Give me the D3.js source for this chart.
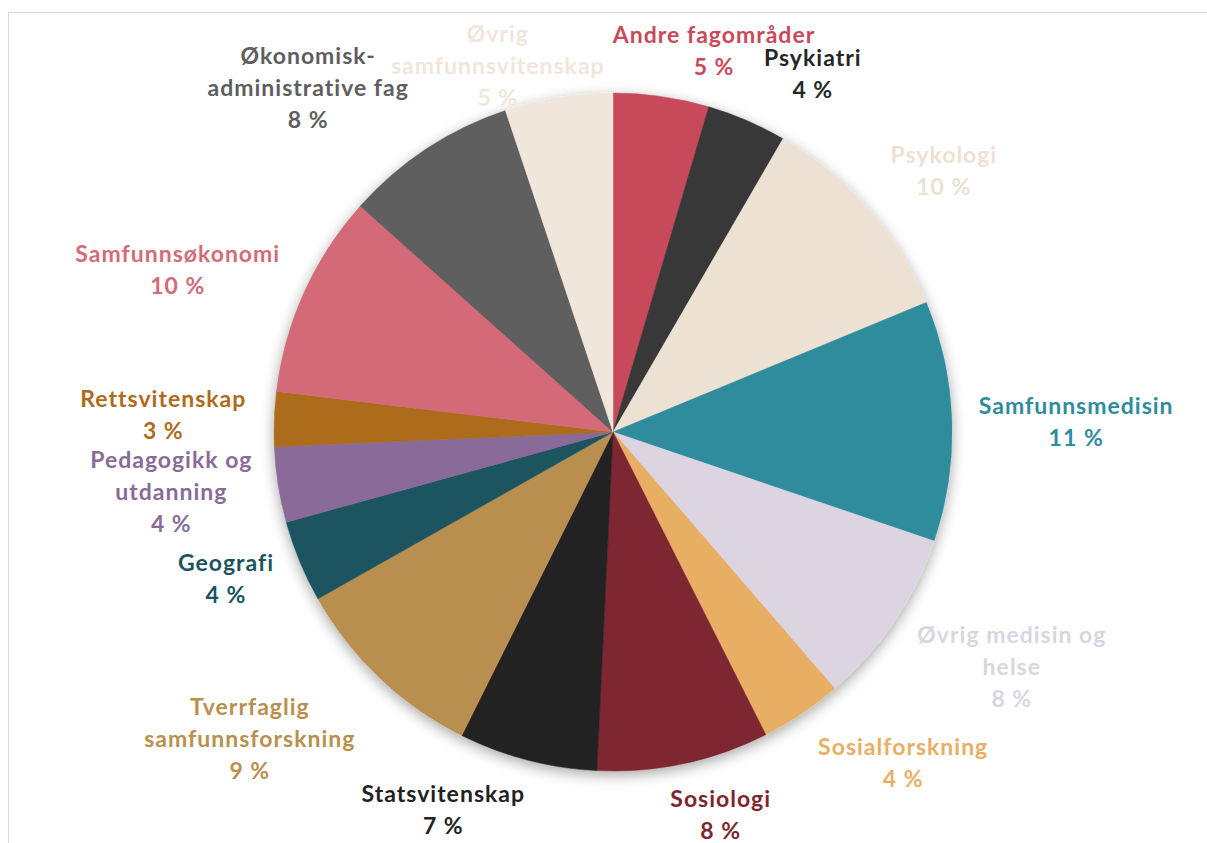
<!DOCTYPE html>
<html>
<head>
<meta charset="utf-8">
<script src="https://cdn.jsdelivr.net/npm/d3@7"></script>
<style>
  html, body { margin: 0; padding: 0; background: #fff; }
  svg text { font-family: Lato, "Open Sans", sans-serif; font-weight: 700; letter-spacing: 1px; }
</style>
</head>
<body>
<svg id="chart" width="1207" height="843"></svg>
<script>
// ---- data ----
const categories = [
  "Andre fagområder", "Psykiatri", "Psykologi", "Samfunnsmedisin",
  "Øvrig medisin og helse", "Sosialforskning", "Sosiologi", "Statsvitenskap",
  "Tverrfaglig samfunnsforskning", "Geografi", "Pedagogikk og utdanning",
  "Rettsvitenskap", "Samfunnsøkonomi", "Økonomisk-administrative fag",
  "Øvrig samfunnsvitenskap"
];
const shares = [4.56, 3.8, 10.4, 11.45, 8.45, 3.9, 8.2, 6.6, 9.45, 3.9, 3.6, 2.6, 9.7, 8.25, 5.14];
const percentLabels = ["5 %", "4 %", "10 %", "11 %", "8 %", "4 %", "8 %", "7 %", "9 %", "4 %", "4 %", "3 %", "10 %", "8 %", "5 %"];
const labelLines = [
  ["Andre fagområder"], ["Psykiatri"], ["Psykologi"], ["Samfunnsmedisin"],
  ["Øvrig medisin og", "helse"], ["Sosialforskning"], ["Sosiologi"], ["Statsvitenskap"],
  ["Tverrfaglig", "samfunnsforskning"], ["Geografi"], ["Pedagogikk og", "utdanning"],
  ["Rettsvitenskap"], ["Samfunnsøkonomi"], ["Økonomisk-", "administrative fag"],
  ["Øvrig", "samfunnsvitenskap"]
];

// ---- styles / layout ----
const colors = ["#C84A5A", "#393939", "#EDE1D3", "#2E8C9D", "#DCD4E1", "#E8AE63",
  "#7E2530", "#222222", "#B98F50", "#1B5460", "#896B98", "#AD6C1C", "#D46B77",
  "#5E5E5E", "#F1E6DC"];
const labelColors = ["#C84A5A", "#262626", "#EDE1D3", "#2E8C9D", "#DCD4E1", "#E8AE63",
  "#7E2530", "#222222", "#B98F50", "#1B5460", "#896B98", "#AD6C1C", "#D46B77",
  "#5E5E5E", "#F1E6DC"];
const labelNudge = [[35,7],[38,2],[19,-3],[5,2],[21,5],[42,3],[22,-2],[-58,-3],
  [-42,9],[-9,-4],[-5,-5],[-6,-3],[-13,-1],[-51,-3],[-40,37]];

const W = 1207, H = 843;
const cx = 613, cy = 432, R = 339;
const lineH = 32, fontSize = 23, gap = 22;

const svg = d3.select("#chart");

// frame
svg.append("path")
  .attr("d", `M8.5,${H} L8.5,12.5 L${W},12.5`)
  .attr("fill", "none").attr("stroke", "#D9D9D9").attr("stroke-width", 1);

const defs = svg.append("defs");
const f = defs.append("filter").attr("id", "shadow")
  .attr("x", "-20%").attr("y", "-20%").attr("width", "140%").attr("height", "140%");
f.append("feDropShadow").attr("dx", 0).attr("dy", 4).attr("stdDeviation", 7)
  .attr("flood-color", "#000").attr("flood-opacity", 0.35);

const pie = d3.pie().sort(null).value(d => d);
const arcs = pie(shares);
const arc = d3.arc().innerRadius(0).outerRadius(R);

const g = svg.append("g").attr("transform", `translate(${cx},${cy})`);
g.append("g").attr("filter", "url(#shadow)")
  .selectAll("path").data(arcs).enter().append("path")
  .attr("d", arc)
  .attr("fill", (d, i) => colors[i])
  .attr("stroke", (d, i) => colors[i])
  .attr("stroke-width", 0.5);

// labels
const lg = g.append("g");
arcs.forEach((d, i) => {
  const a = (d.startAngle + d.endAngle) / 2;
  const lines = labelLines[i].concat([percentLabels[i]]);
  const hh = lines.length * lineH / 2;
  const t = lg.append("text")
    .attr("text-anchor", "middle")
    .attr("font-size", fontSize)
    .attr("fill", labelColors[i]);
  lines.forEach((s, k) => t.append("tspan").attr("x", 0).attr("dy", k === 0 ? 0 : lineH).text(s));
  const hw = t.node().getBBox().width / 2;
  const lx = (R + gap) * Math.sin(a) + hw * Math.sin(a) + labelNudge[i][0];
  const ly = -(R + gap) * Math.cos(a) - hh * Math.cos(a) + labelNudge[i][1];
  const top = ly - hh + lineH / 2;
  t.attr("transform", `translate(${lx},${top})`).attr("dominant-baseline", "central");
});
</script>
</body>
</html>
